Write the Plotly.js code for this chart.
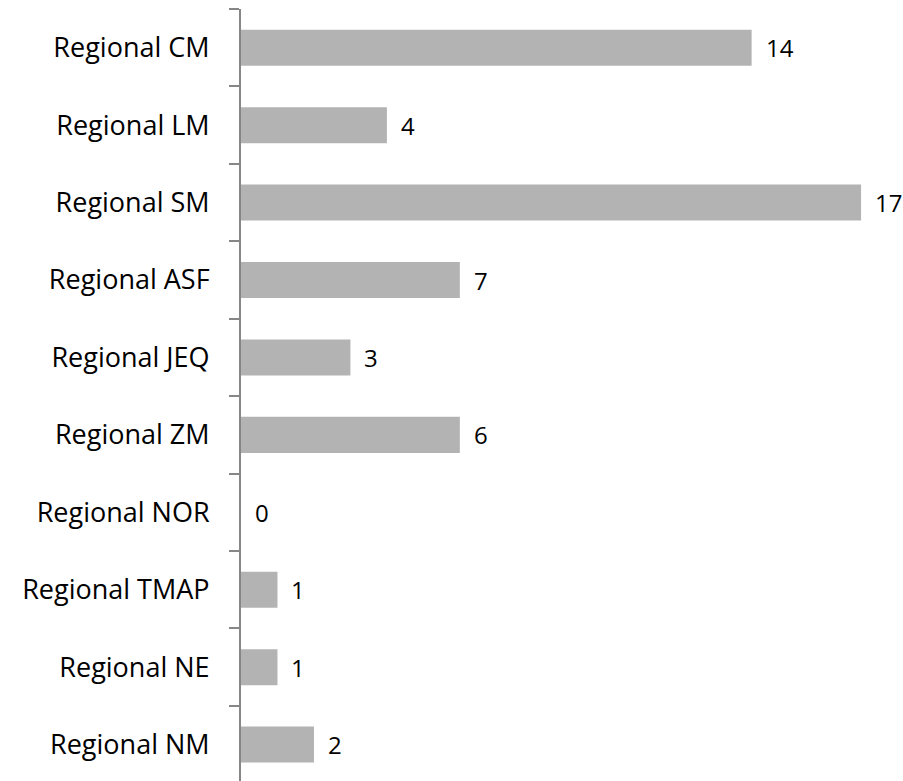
<!DOCTYPE html>
<html>
<head>
<meta charset="utf-8">
<script src="https://cdn.plot.ly/plotly-3.0.1.min.js"></script>
<style>html,body{margin:0;padding:0;background:#fff;}</style>
</head>
<body>
<div id="chart" style="width:903px;height:781px;"></div>
<script>
const categories = ["Regional CM","Regional LM","Regional SM","Regional ASF","Regional JEQ","Regional ZM","Regional NOR","Regional TMAP","Regional NE","Regional NM"];
// bar lengths as drawn in the reference
const values = [14, 4, 17, 6, 3, 6, 0, 1, 1, 2];
// data labels as printed in the reference
const labels = ["14", "4", "17", "7", "3", "6", "0", "1", "1", "2"];

const fontFamily = "'Open Sans', 'Liberation Sans', sans-serif";

const trace = {
  type: "bar",
  orientation: "h",
  x: values,
  y: categories,
  marker: {color: "#b3b3b3"},
  hoverinfo: "none"
};

const annotations = categories.map((c, i) => ({
  x: values[i], y: c, xref: "x", yref: "y",
  text: labels[i], showarrow: false,
  xanchor: "left", yanchor: "middle", xshift: 13,
  borderpad: 0,
  font: {family: fontFamily, size: 24, color: "#000"}
}));

const layout = {
  width: 903, height: 781,
  margin: {l: 241, r: 0, t: 9, b: 0, pad: 0},
  paper_bgcolor: "#fff", plot_bgcolor: "#fff",
  showlegend: false,
  bargap: 0.535,
  font: {family: fontFamily, size: 27, color: "#000"},
  xaxis: {range: [0, 18.15], visible: false, showgrid: false, zeroline: false, fixedrange: true},
  yaxis: {
    type: "category",
    range: [9.47, -0.5],
    tickson: "boundaries",
    ticks: "outside", ticklen: 10, tickwidth: 2, tickcolor: "#868686",
    showline: true, linecolor: "#868686", linewidth: 2,
    showgrid: false, zeroline: false,
    ticklabelstandoff: 24,
    tickfont: {family: fontFamily, size: 27, color: "#000"}
  },
  annotations: annotations
};

Plotly.newPlot("chart", [trace], layout, {displayModeBar: false, staticPlot: true});
</script>
</body>
</html>
